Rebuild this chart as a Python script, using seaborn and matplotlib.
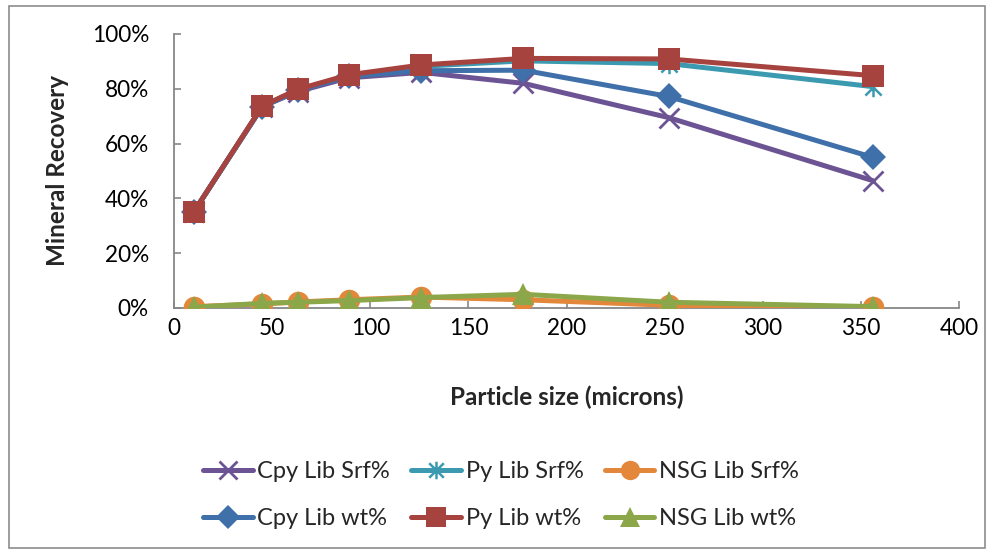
import matplotlib
matplotlib.use("Agg")
import matplotlib.pyplot as plt
from matplotlib.patches import Rectangle
from matplotlib.path import Path
from matplotlib.ticker import PercentFormatter, MultipleLocator
import numpy as np
import pandas as pd
import seaborn as sns

# Particle size classes (microns)
sizes = [10, 45, 63, 89, 126, 178, 252, 356]

# Recovery fractions per liberation class
cpy_lib_srf = [0.35, 0.735, 0.79, 0.84, 0.86, 0.82, 0.695, 0.465]
py_lib_srf = [0.35, 0.735, 0.795, 0.848, 0.882, 0.902, 0.892, 0.808]
nsg_lib_srf = [0.005, 0.015, 0.022, 0.03, 0.04, 0.03, 0.01, 0.002]
cpy_lib_wt = [0.35, 0.735, 0.795, 0.845, 0.866, 0.868, 0.772, 0.55]
py_lib_wt = [0.35, 0.737, 0.798, 0.851, 0.887, 0.911, 0.909, 0.848]
nsg_lib_wt = [0.003, 0.017, 0.021, 0.027, 0.038, 0.05, 0.021, 0.005]

series_names = ["Cpy Lib Srf%", "Py Lib Srf%", "NSG Lib Srf%",
                "Cpy Lib wt%", "Py Lib wt%", "NSG Lib wt%"]
series_values = [cpy_lib_srf, py_lib_srf, nsg_lib_srf,
                 cpy_lib_wt, py_lib_wt, nsg_lib_wt]

# Asterisk marker: an X crossed by a vertical stroke
asterisk = Path(
    [(-1, -1), (1, 1), (-1, 1), (1, -1), (0, -1.2), (0, 1.2)],
    [Path.MOVETO, Path.LINETO, Path.MOVETO, Path.LINETO, Path.MOVETO, Path.LINETO],
)

styles = {
    "Cpy Lib Srf%": dict(color="#6C5494", marker="x", ms=15, mew=2.0, lw=3.6),
    "Py Lib Srf%": dict(color="#3C9AB0", marker=asterisk, ms=14, mew=1.8, lw=3.6),
    "NSG Lib Srf%": dict(color="#E3883A", marker="o", ms=15.5, mew=0, lw=3.6),
    "Cpy Lib wt%": dict(color="#3F70AA", marker="D", ms=13.5, mew=0, lw=3.6),
    "Py Lib wt%": dict(color="#A6433F", marker="s", ms=15.5, mew=0, lw=3.6),
    "NSG Lib wt%": dict(color="#8BA74A", marker="^", ms=16, mew=0, lw=3.6),
}

df = pd.DataFrame({
    "size": np.tile(sizes, len(series_names)),
    "recovery": np.concatenate(series_values),
    "series": np.repeat(series_names, len(sizes)),
})

sns.set_theme(style="white")
plt.rcParams["font.family"] = ["Lato", "DejaVu Sans"]

fig = plt.figure(figsize=(9.93, 5.5), dpi=100)
ax = fig.add_axes([174 / 993, 1 - 308 / 550, (959 - 174) / 993, (308 - 34) / 550])

handles = {}
for i, name in enumerate(series_names):
    st = styles[name]
    sub = df[df["series"] == name]
    sns.lineplot(data=sub, x="size", y="recovery", ax=ax, color=st["color"],
                 marker=st["marker"], markersize=st["ms"], markeredgewidth=st["mew"],
                 markeredgecolor=st["color"], linewidth=st["lw"], zorder=3 + i,
                 legend=False, errorbar=None)
    handles[name] = ax.lines[-1]

ax.set_xlim(0, 400)
ax.set_ylim(0, 1)
ax.xaxis.set_major_locator(MultipleLocator(50))
ax.yaxis.set_major_locator(MultipleLocator(0.2))
ax.yaxis.set_major_formatter(PercentFormatter(1.0, decimals=0))

for side in ["top", "right"]:
    ax.spines[side].set_visible(False)
for side in ["left", "bottom"]:
    ax.spines[side].set_color("#878787")
    ax.spines[side].set_linewidth(1.3)
ax.tick_params(axis="both", direction="in", length=5, width=1.2, color="#878787",
               labelsize=16.3, labelcolor="black", left=True, bottom=True)
ax.tick_params(axis="x", pad=7)
ax.tick_params(axis="y", pad=18)

ax.set_xlabel("Particle size (microns)", fontsize=17.5, fontweight="bold", labelpad=34)
ax.set_ylabel("Mineral Recovery", fontsize=17.5, fontweight="bold", labelpad=16)

# Legend: two rows, three columns (column-major fill)
order = ["Cpy Lib Srf%", "Cpy Lib wt%", "Py Lib Srf%",
         "Py Lib wt%", "NSG Lib Srf%", "NSG Lib wt%"]
leg = fig.legend([handles[n] for n in order], order, ncol=3, frameon=False,
                 loc="center", bbox_to_anchor=(501 / 993, 1 - 495 / 550),
                 fontsize=17, handlelength=2.1, handletextpad=0.2,
                 columnspacing=0.9, labelspacing=1.1, markerscale=0.9)

# Outer chart border
fig.patches.append(Rectangle((9 / 993, 2 / 550), (985 - 9) / 993, (544 - 2) / 550,
                             transform=fig.transFigure, fill=False,
                             edgecolor="#8C8C8C", linewidth=1.2))

fig.savefig("out.png", dpi=100)
